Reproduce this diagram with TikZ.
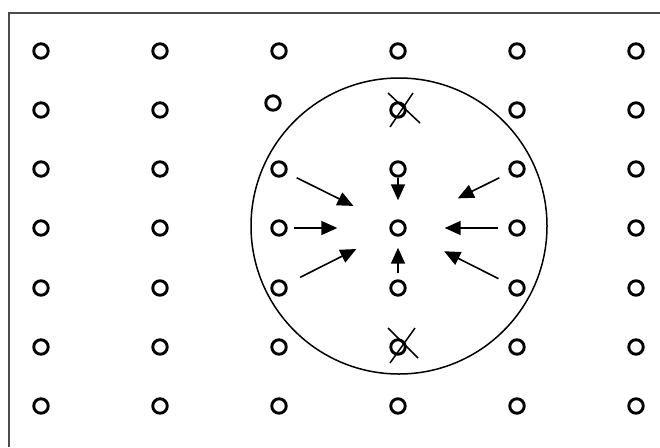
\documentclass[tikz,border=0pt]{standalone}
\usetikzlibrary{arrows.meta}
\begin{document}
\begin{tikzpicture}[x=1pt,y=-1pt,
  dot/.style={circle,draw=black,line width=2.9pt,minimum size=14.5pt,inner sep=0pt},
  arr/.style={line width=1.6pt,-{Triangle[length=16pt,width=14pt]}},
  cross/.style={line width=1.5pt},
  frame/.style={line width=1.6pt,draw=black!70}]
\useasboundingbox (0,0) rectangle (660,447);
% frame
\coordinate (fTL) at (9,13);
\coordinate (fTR) at (660,13);
\coordinate (fBL) at (9,447);
\draw[frame] (fTR) -- (fTL) -- (fBL);
% grid of particles
\foreach \i/\x in {1/41,2/160,3/279,4/398,5/517,6/636}{
  \foreach \j/\y in {1/51,2/110,3/169,4/228,5/288,6/347,7/406}{
    \ifnum\i\j=32 \else
      \node[dot] (c\i\j) at (\x,\y) {};
    \fi
  }
}
\node[dot] (c32) at (273,103) {};
% big circle
\node[circle,draw=black,line width=1.5pt,minimum size=296pt,inner sep=0pt] (big) at (399,226) {};
% crossed-out particles
\draw[cross] ([shift={(-10,-17)}]c42.center) -- ([shift={(22,13)}]c42.center);
\draw[cross] ([shift={(15,-17)}]c42.center) -- ([shift={(-8,17)}]c42.center);
\draw[cross] ([shift={(-10,-19)}]c46.center) -- ([shift={(20,11)}]c46.center);
\draw[cross] ([shift={(17,-19)}]c46.center) -- ([shift={(-8,16)}]c46.center);
% arrows toward the centre
\draw[arr,shorten <=11pt,shorten >=41pt] (c33) -- (c44);
\draw[arr,shorten <=6pt,shorten >=52pt] (c34) -- (c44);
\draw[arr,shorten <=15pt,shorten >=38pt] (c35) -- (c44);
\draw[arr,shorten <=0pt,shorten >=19pt] (c43) -- (c44);
\draw[arr,shorten <=6pt,shorten >=11pt] (c45) -- (c44);
\draw[arr,shorten <=11pt,shorten >=58pt] (c53) -- (c44);
\draw[arr,shorten <=10pt,shorten >=38pt] (c54) -- (c44);
\draw[arr,shorten <=12pt,shorten >=43pt] (c55) -- (c44);
\end{tikzpicture}
\end{document}
